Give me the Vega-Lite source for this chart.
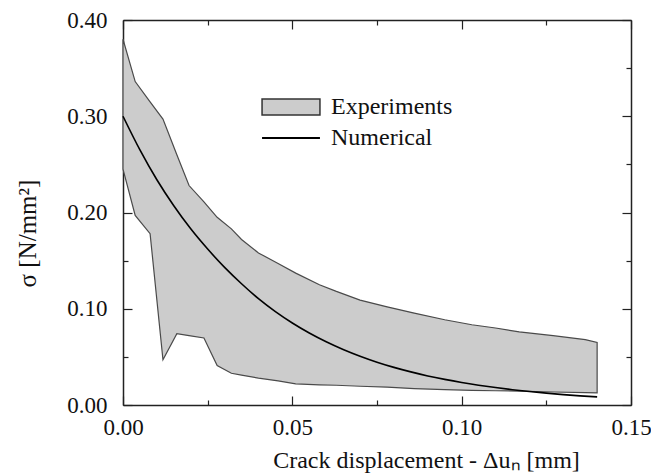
{
  "$schema": "https://vega.github.io/schema/vega-lite/v6.json",
  "width": 508,
  "height": 385,
  "autosize": {"type": "none"},
  "padding": {"left": 123, "top": 20, "right": 20, "bottom": 71},
  "background": "#ffffff",
  "config": {
    "view": {"stroke": null},
    "font": "Liberation Serif",
    "axis": {"labelFont": "Liberation Serif", "titleFont": "Liberation Serif", "labelColor": "#111111", "titleColor": "#111111", "domainColor": "#222222", "domainWidth": 1.5, "tickColor": "#222222", "tickWidth": 1.2, "grid": false, "zindex": 1},
    "legend": {"labelFont": "Liberation Serif", "labelFontSize": 24, "labelColor": "#111111", "padding": 0, "title": null}
  },
  "datasets": {
    "exp": [
      {"x": 0.0, "hi": 0.380, "lo": 0.245, "series": "Experiments"},
      {"x": 0.0036, "hi": 0.336, "lo": 0.197, "series": "Experiments"},
      {"x": 0.008, "hi": 0.315, "lo": 0.178, "series": "Experiments"},
      {"x": 0.0118, "hi": 0.297, "lo": 0.047, "series": "Experiments"},
      {"x": 0.0159, "hi": 0.260, "lo": 0.074, "series": "Experiments"},
      {"x": 0.0195, "hi": 0.228, "lo": 0.072, "series": "Experiments"},
      {"x": 0.0239, "hi": 0.211, "lo": 0.0696, "series": "Experiments"},
      {"x": 0.0278, "hi": 0.195, "lo": 0.041, "series": "Experiments"},
      {"x": 0.032, "hi": 0.183, "lo": 0.033, "series": "Experiments"},
      {"x": 0.035, "hi": 0.172, "lo": 0.031, "series": "Experiments"},
      {"x": 0.040, "hi": 0.158, "lo": 0.028, "series": "Experiments"},
      {"x": 0.0458, "hi": 0.147, "lo": 0.025, "series": "Experiments"},
      {"x": 0.051, "hi": 0.137, "lo": 0.022, "series": "Experiments"},
      {"x": 0.058, "hi": 0.125, "lo": 0.021, "series": "Experiments"},
      {"x": 0.063, "hi": 0.118, "lo": 0.0205, "series": "Experiments"},
      {"x": 0.070, "hi": 0.109, "lo": 0.0195, "series": "Experiments"},
      {"x": 0.078, "hi": 0.102, "lo": 0.0185, "series": "Experiments"},
      {"x": 0.086, "hi": 0.0955, "lo": 0.017, "series": "Experiments"},
      {"x": 0.095, "hi": 0.0886, "lo": 0.016, "series": "Experiments"},
      {"x": 0.103, "hi": 0.0834, "lo": 0.0152, "series": "Experiments"},
      {"x": 0.110, "hi": 0.080, "lo": 0.0148, "series": "Experiments"},
      {"x": 0.117, "hi": 0.076, "lo": 0.0145, "series": "Experiments"},
      {"x": 0.127, "hi": 0.072, "lo": 0.0135, "series": "Experiments"},
      {"x": 0.1365, "hi": 0.068, "lo": 0.0128, "series": "Experiments"},
      {"x": 0.140, "hi": 0.065, "lo": 0.0125, "series": "Experiments"}
    ],
    "num": [
      {"x": 0.0, "y": 0.300, "series": "Numerical"},
      {"x": 0.005, "y": 0.265, "series": "Numerical"},
      {"x": 0.010, "y": 0.234, "series": "Numerical"},
      {"x": 0.015, "y": 0.207, "series": "Numerical"},
      {"x": 0.020, "y": 0.183, "series": "Numerical"},
      {"x": 0.025, "y": 0.162, "series": "Numerical"},
      {"x": 0.030, "y": 0.143, "series": "Numerical"},
      {"x": 0.035, "y": 0.126, "series": "Numerical"},
      {"x": 0.040, "y": 0.1105, "series": "Numerical"},
      {"x": 0.045, "y": 0.097, "series": "Numerical"},
      {"x": 0.050, "y": 0.0852, "series": "Numerical"},
      {"x": 0.055, "y": 0.0748, "series": "Numerical"},
      {"x": 0.060, "y": 0.0657, "series": "Numerical"},
      {"x": 0.065, "y": 0.0577, "series": "Numerical"},
      {"x": 0.070, "y": 0.0507, "series": "Numerical"},
      {"x": 0.075, "y": 0.0445, "series": "Numerical"},
      {"x": 0.080, "y": 0.0391, "series": "Numerical"},
      {"x": 0.085, "y": 0.0344, "series": "Numerical"},
      {"x": 0.090, "y": 0.0302, "series": "Numerical"},
      {"x": 0.095, "y": 0.0266, "series": "Numerical"},
      {"x": 0.100, "y": 0.0234, "series": "Numerical"},
      {"x": 0.105, "y": 0.0206, "series": "Numerical"},
      {"x": 0.110, "y": 0.0181, "series": "Numerical"},
      {"x": 0.115, "y": 0.0159, "series": "Numerical"},
      {"x": 0.120, "y": 0.0140, "series": "Numerical"},
      {"x": 0.125, "y": 0.0123, "series": "Numerical"},
      {"x": 0.130, "y": 0.0108, "series": "Numerical"},
      {"x": 0.135, "y": 0.0095, "series": "Numerical"},
      {"x": 0.140, "y": 0.0084, "series": "Numerical"}
    ]
  },
  "layer": [
    {
      "data": {"name": "exp"},
      "mark": {"type": "area", "stroke": "#4a4a4a", "strokeWidth": 1.2, "interpolate": "linear"},
      "encoding": {
        "x": {"field": "x", "type": "quantitative", "scale": {"domain": [0, 0.15], "nice": false},
          "axis": {"orient": "bottom", "values": [0, 0.025, 0.05, 0.075, 0.1, 0.125, 0.15],
            "labelExpr": "round(datum.value*1000) % 50 === 0 ? format(datum.value, '.2f') : ''",
            "tickSize": {"condition": {"test": "round(datum.value*1000) % 50 === 0", "value": -9}, "value": -5},
            "labelFontSize": 23, "labelPadding": 20, "labelFlush": false, "labelOverlap": false, "labelBound": false,
            "title": "Crack displacement - Δuₙ [mm]", "titleFontSize": 24, "titleFontWeight": "normal",
            "titleX": 303, "titleY": 62, "titleBaseline": "alphabetic", "titleAlign": "center"}},
        "y": {"field": "hi", "type": "quantitative", "scale": {"domain": [0, 0.4], "nice": false},
          "axis": {"orient": "left", "values": [0, 0.05, 0.1, 0.15, 0.2, 0.25, 0.3, 0.35, 0.4],
            "labelExpr": "round(datum.value*100) % 10 === 0 ? format(datum.value, '.2f') : ''",
            "tickSize": {"condition": {"test": "round(datum.value*100) % 10 === 0", "value": -9}, "value": -5},
            "labelFontSize": 23, "labelPadding": 25, "labelFlush": false, "labelOverlap": false, "labelBound": false,
            "title": "σ [N/mm²]", "titleFontSize": 25, "titleFontWeight": "normal",
            "titleX": -88, "titleY": 213, "titleAngle": -90, "titleBaseline": "alphabetic", "titleAlign": "center"}},
        "y2": {"field": "lo"},
        "fill": {"field": "series", "type": "nominal",
          "scale": {"domain": ["Experiments"], "range": ["#cccccc"]},
          "legend": {"orient": "none", "legendX": 152, "legendY": 71, "title": null,
            "symbolType": "M-1.93,-0.53H1.93V0.53H-1.93Z", "symbolSize": 900,
            "symbolStrokeColor": "#333333", "symbolStrokeWidth": 1.5, "symbolOpacity": 1,
            "labelOffset": 24}}
      }
    },
    {
      "data": {"name": "num"},
      "mark": {"type": "line", "strokeWidth": 1.6, "interpolate": "monotone"},
      "encoding": {
        "x": {"field": "x", "type": "quantitative",
          "axis": {"orient": "top", "values": [0, 0.025, 0.05, 0.075, 0.1, 0.125, 0.15], "labels": false, "title": null,
            "tickSize": {"condition": {"test": "round(datum.value*1000) % 50 === 0", "value": -9}, "value": -5}}},
        "y": {"field": "y", "type": "quantitative",
          "axis": {"orient": "right", "values": [0, 0.05, 0.1, 0.15, 0.2, 0.25, 0.3, 0.35, 0.4], "labels": false, "title": null,
            "tickSize": {"condition": {"test": "round(datum.value*100) % 10 === 0", "value": -9}, "value": -5}}},
        "stroke": {"field": "series", "type": "nominal",
          "scale": {"domain": ["Numerical"], "range": ["#000000"]},
          "legend": {"orient": "none", "legendX": 152, "legendY": 102, "title": null,
            "symbolType": "M-1.93,0H1.93", "symbolSize": 900, "symbolStrokeWidth": 2,
            "labelOffset": 24}}
      }
    }
  ],
  "resolve": {"axis": {"x": "independent", "y": "independent"}}
}
